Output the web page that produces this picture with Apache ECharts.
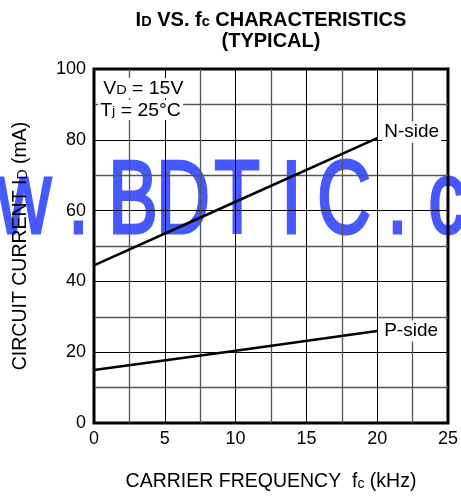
<!DOCTYPE html>
<html>
<head>
<meta charset="utf-8">
<script src="https://cdn.jsdelivr.net/npm/echarts@6/dist/echarts.min.js"></script>
<style>html,body{margin:0;padding:0;background:#fff}#c{width:461px;height:497px}</style>
</head>
<body>
<div id="c"></div>
<script>
// ---- data ----
const freqKHz = [0, 10, 20];
const nSide = [44.5, 62.5, 80.5];
const pSide = [15, 20.4, 26];
const seriesNames = ['N-side', 'P-side'];
const xTicks = [0, 5, 10, 15, 20, 25];
const yTicks = [0, 20, 40, 60, 80, 100];
const watermarkChars = ['w', 'w', 'w', '.', 'B', 'D', 'T', 'I', 'C', '.', 'c', 'o', 'm'];

// ---- layout (not data) ----
const wmCenters = [-82, -29, 24, 78.5, 133, 183, 237, 291.5, 344, 397.5, 447, 505, 560];

const chart = echarts.init(document.getElementById('c'), null, {renderer: 'canvas'});
const FONT = 'Liberation Sans, Arial, Helvetica, sans-serif';

const toPairs = (xs, ys) => xs.map((x, i) => [x, ys[i]]);

const wmGraphics = watermarkChars.map((ch, i) => ({
  type: 'text',
  z: -10,
  silent: true,
  x: wmCenters[i],
  y: 204,
  scaleX: 0.72,
  originX: 0,
  originY: 0,
  style: {
    text: ch,
    fontSize: 104,
    fontWeight: 'normal',
    fontFamily: FONT,
    fill: '#4659ff',
    stroke: '#4659ff',
    lineWidth: 3,
    textAlign: 'center',
    textVerticalAlign: 'middle'
  }
}));

const nameRich = {
  n: {fontSize: 19.5, fontFamily: FONT, color: '#000', verticalAlign: 'bottom'},
  s: {fontSize: 14, fontFamily: FONT, color: '#000', verticalAlign: 'bottom', padding: [0, 0, 1, 0]}
};

const option = {
  backgroundColor: '#fff',
  animation: false,
  grid: {
    left: 94, right: 12, top: 69, bottom: 74,
    show: true, borderColor: '#000', borderWidth: 3, backgroundColor: 'transparent'
  },
  xAxis: {
    type: 'value', min: xTicks[0], max: xTicks[xTicks.length - 1], interval: 5,
    name: '{n|CARRIER FREQUENCY  f}{s|c}{n| (kHz)}',
    nameLocation: 'middle', nameGap: 49,
    nameTextStyle: {rich: nameRich},
    axisLine: {show: false},
    axisTick: {show: false},
    axisLabel: {fontSize: 18, fontFamily: FONT, color: '#000', margin: 7},
    splitLine: {show: true, lineStyle: {color: '#000', width: 1}},
    minorTick: {show: false, splitNumber: 2},
    minorSplitLine: {show: true, lineStyle: {color: '#555', width: 1.3}}
  },
  yAxis: {
    type: 'value', min: yTicks[0], max: yTicks[yTicks.length - 1], interval: 20,
    name: '{n|CIRCUIT CURRENT I}{s|D}{n| (mA)}',
    nameLocation: 'middle', nameGap: 63, nameRotate: 90,
    nameTextStyle: {rich: nameRich},
    axisLine: {show: false},
    axisTick: {show: false},
    axisLabel: {fontSize: 18, fontFamily: FONT, color: '#000', margin: 8},
    splitLine: {show: true, lineStyle: {color: '#000', width: 1}},
    minorTick: {show: false, splitNumber: 2},
    minorSplitLine: {show: true, lineStyle: {color: '#555', width: 1.3}}
  },
  series: [
    {
      name: seriesNames[0], type: 'line', data: toPairs(freqKHz, nSide),
      showSymbol: false, symbol: 'none', z: 5,
      lineStyle: {color: '#000', width: 2.5},
      endLabel: {
        show: true, formatter: seriesNames[0], distance: 5, offset: [0, -6],
        fontSize: 19, fontFamily: FONT, color: '#000', backgroundColor: '#fff', padding: [1, 2]
      }
    },
    {
      name: seriesNames[1], type: 'line', data: toPairs(freqKHz, pSide),
      showSymbol: false, symbol: 'none', z: 5,
      lineStyle: {color: '#000', width: 2.5},
      endLabel: {
        show: true, formatter: seriesNames[1], distance: 5,
        fontSize: 19, fontFamily: FONT, color: '#000', backgroundColor: '#fff', padding: [1, 2]
      }
    }
  ],
  graphic: wmGraphics.concat([
    {
      type: 'text', x: 271, y: 9, z: 10,
      style: {
        text: '{b|I}{bs|D}{b| VS. f}{bs|c}{b| CHARACTERISTICS}\n{b|(TYPICAL)}',
        textAlign: 'center',
        rich: {
          b: {fontSize: 20, fontWeight: 'bold', fontFamily: FONT, fill: '#000', lineHeight: 21, verticalAlign: 'bottom'},
          bs: {fontSize: 14.5, fontWeight: 'bold', fontFamily: FONT, fill: '#000', verticalAlign: 'bottom', padding: [0, 0, 1, 0]}
        }
      }
    },
    {
      type: 'text', x: 101, y: 78, z: 10, scaleX: 1.08,
      style: {
        text: '{n|V}{s|D}{n| = 15V}',
        backgroundColor: '#fff', padding: [0, 2, 0, 2],
        rich: {
          n: {fontSize: 18, fontFamily: FONT, fill: '#000', lineHeight: 20, verticalAlign: 'bottom'},
          s: {fontSize: 13.5, fontFamily: FONT, fill: '#000', verticalAlign: 'bottom', padding: [0, 0, 1, 0]}
        }
      }
    },
    {
      type: 'text', x: 98, y: 100, z: 10, scaleX: 1.08,
      style: {
        text: '{n|T}{s|j}{n| = 25°C}',
        backgroundColor: '#fff', padding: [0, 2, 0, 2],
        rich: {
          n: {fontSize: 18, fontFamily: FONT, fill: '#000', lineHeight: 20, verticalAlign: 'bottom'},
          s: {fontSize: 13.5, fontFamily: FONT, fill: '#000', verticalAlign: 'bottom', padding: [0, 0, 2, 0]}
        }
      }
    }
  ])
};
chart.setOption(option);
</script>
</body>
</html>
